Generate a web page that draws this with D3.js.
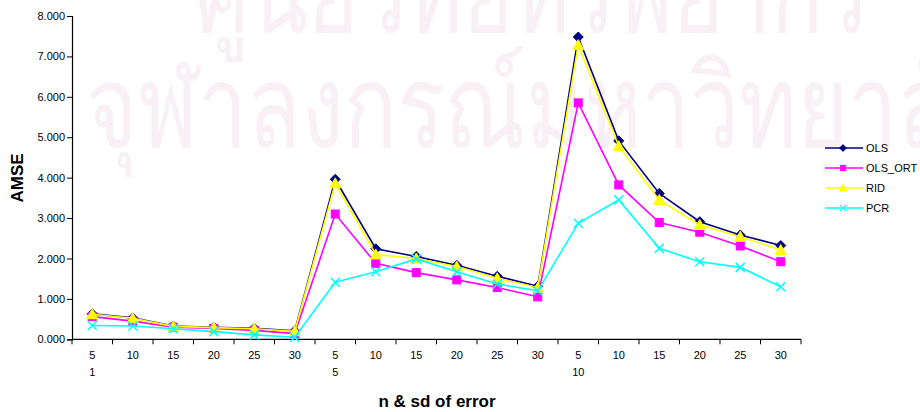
<!DOCTYPE html>
<html>
<head>
<meta charset="utf-8">
<script src="https://cdn.jsdelivr.net/npm/d3@7"></script>
<style>
  html, body { margin: 0; padding: 0; background: #fff; }
  svg { display: block; }
  text { font-family: "Liberation Sans", Arial, sans-serif; }
</style>
</head>
<body>
<svg id="chart" width="920" height="412"></svg>
<script>
// Sample size (n) within each standard deviation of error (sd)
const sdGroups = ["1", "5", "10"];
const nValues = ["5", "10", "15", "20", "25", "30"];
const yTicks = [0, 1, 2, 3, 4, 5, 6, 7, 8];

// AMSE per estimator, ordered sd=1 (n=5..30), sd=5 (n=5..30), sd=10 (n=5..30)
const ols    = [0.63, 0.53, 0.33, 0.30, 0.27, 0.21, 3.96, 2.24, 2.05, 1.83, 1.56, 1.31, 7.48, 4.91, 3.61, 2.91, 2.58, 2.32];
const olsOrt = [0.56, 0.45, 0.30, 0.27, 0.22, 0.14, 3.10, 1.88, 1.65, 1.47, 1.28, 1.05, 5.85, 3.82, 2.89, 2.65, 2.31, 1.92];
const rid    = [0.62, 0.52, 0.32, 0.29, 0.26, 0.20, 3.86, 2.10, 2.00, 1.80, 1.51, 1.28, 7.28, 4.78, 3.45, 2.83, 2.54, 2.21];
const pcr    = [0.34, 0.33, 0.26, 0.19, 0.11, 0.05, 1.41, 1.67, 1.99, 1.67, 1.37, 1.20, 2.87, 3.45, 2.25, 1.92, 1.78, 1.30];

const seriesNames = ["OLS", "OLS_ORT", "RID", "PCR"];
const seriesColors = ["#000080", "#ff00ff", "#ffff00", "#00ffff"];
const seriesValues = [ols, olsOrt, rid, pcr];
const seriesMarkers = ["diamond", "square", "triangle", "cross"];

const svg = d3.select("#chart");

// Faint institutional watermark behind the plot (tall, condensed lettering)
const wm = svg.append("g").attr("fill", "#f9f0f5")
  .attr("font-family", "'Noto Sans', 'DejaVu Sans', sans-serif");
wm.append("text").attr("transform", "translate(195,32) scale(0.86,1.15)")
  .attr("font-size", 100).text("ศูนย์วิทยทรัพยากร");
wm.append("text").attr("transform", "translate(86,147) scale(0.88,1.15)")
  .attr("font-size", 100).text("จุฬาลงกรณ์มหาวิทยาลัย");

const plotLeft = 72, plotRight = 801, plotTop = 16, plotBottom = 339.3;

const cats = [];
sdGroups.forEach(sd => nValues.forEach(n => cats.push(sd + "|" + n)));

const x = d3.scalePoint().domain(cats).range([plotLeft, plotRight]).padding(0.5);
const step = x.step();
const y = d3.scaleLinear().domain([0, 8]).range([plotBottom, plotTop]);

// Y axis
const yAxis = d3.axisLeft(y).tickValues(yTicks).tickSize(5).tickPadding(2)
  .tickFormat(d3.format(".3f"));
const gy = svg.append("g").attr("transform", `translate(${plotLeft},0)`).call(yAxis);
gy.select(".domain").attr("stroke", "#000").attr("stroke-width", 1.2);
gy.selectAll(".tick line").attr("stroke", "#000");
gy.selectAll(".tick text").attr("font-size", 11).attr("fill", "#000")
  .attr("font-family", "'Liberation Sans', Arial, sans-serif");

// X axis line with boundary ticks between categories
const gx = svg.append("g");
gx.append("line").attr("x1", plotLeft).attr("x2", plotRight).attr("y1", plotBottom).attr("y2", plotBottom)
  .attr("stroke", "#000").attr("stroke-width", 1.2);
d3.range(cats.length + 1).forEach(i => {
  const xx = plotLeft + i * step;
  gx.append("line").attr("x1", xx).attr("x2", xx).attr("y1", plotBottom).attr("y2", plotBottom + 5)
    .attr("stroke", "#000");
});
cats.forEach((c, i) => {
  const [sd, n] = c.split("|");
  gx.append("text").attr("x", x(c)).attr("y", 359).attr("text-anchor", "middle")
    .attr("font-size", 11).text(n);
  if (i % nValues.length === 0) {
    gx.append("text").attr("x", x(c)).attr("y", 376).attr("text-anchor", "middle")
      .attr("font-size", 11).text(sd);
  }
});

// Axis titles
svg.append("text").attr("x", 437).attr("y", 407).attr("text-anchor", "middle")
  .attr("font-size", 17).attr("font-weight", "bold").text("n & sd of error");
svg.append("text").attr("transform", "translate(23,178) rotate(-90)")
  .attr("text-anchor", "middle").attr("font-size", 17).attr("font-weight", "bold").text("AMSE");

// Marker shapes
function drawMarker(g, type, color, cx, cy) {
  if (type === "diamond") {
    g.append("path").attr("d", `M${cx},${cy - 5}L${cx + 5},${cy}L${cx},${cy + 5}L${cx - 5},${cy}Z`)
      .attr("fill", color).attr("stroke", color);
  } else if (type === "square") {
    g.append("rect").attr("x", cx - 4).attr("y", cy - 4).attr("width", 8).attr("height", 8)
      .attr("fill", color).attr("stroke", color);
  } else if (type === "triangle") {
    g.append("path").attr("d", `M${cx},${cy - 5.5}L${cx + 5.5},${cy + 4.5}L${cx - 5.5},${cy + 4.5}Z`)
      .attr("fill", color).attr("stroke", color);
  } else {
    g.append("path").attr("d", `M${cx - 4.5},${cy - 4.5}L${cx + 4.5},${cy + 4.5}M${cx - 4.5},${cy + 4.5}L${cx + 4.5},${cy - 4.5}`)
      .attr("fill", "none").attr("stroke", color).attr("stroke-width", 1.5);
  }
}

const line = d3.line().x((d, i) => x(cats[i])).y(d => y(d));

seriesValues.forEach((vals, s) => {
  const g = svg.append("g");
  g.append("path").datum(vals).attr("d", line).attr("fill", "none")
    .attr("stroke", seriesColors[s]).attr("stroke-width", 1.6);
  vals.forEach((v, i) => drawMarker(g, seriesMarkers[s], seriesColors[s], x(cats[i]), y(v)));
});

// Legend
const lg = svg.append("g");
seriesNames.forEach((name, s) => {
  const ly = 148 + s * 20;
  lg.append("line").attr("x1", 825).attr("x2", 863).attr("y1", ly).attr("y2", ly)
    .attr("stroke", seriesColors[s]).attr("stroke-width", 1.6);
  const mg = lg.append("g").attr("transform", `translate(843,${ly}) scale(0.7) translate(-843,${-ly})`);
  drawMarker(mg, seriesMarkers[s], seriesColors[s], 843, ly);
  lg.append("text").attr("x", 866).attr("y", ly + 4).attr("font-size", 11).text(name);
});
</script>
</body>
</html>
